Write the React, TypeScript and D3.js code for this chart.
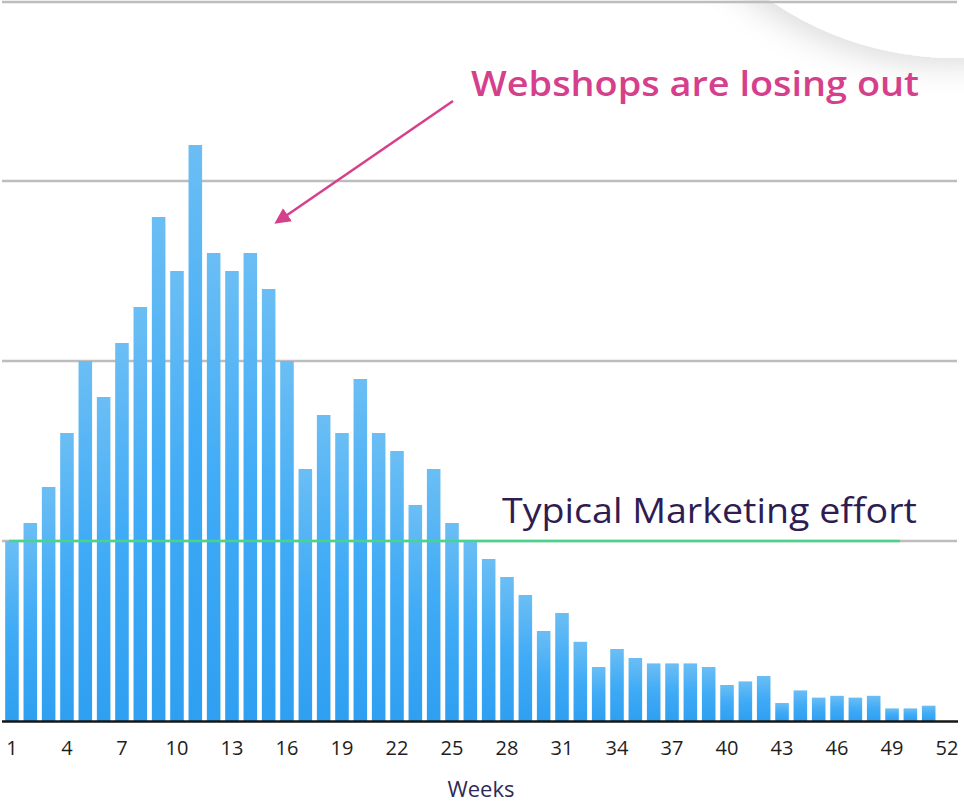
import React, { useEffect, useRef } from "react";
import * as d3 from "d3";

// weeks on the x axis (week 52 has no bar)
const weeks = d3.range(1, 53);

// bar heights, one per week (gridline step = 10)
const values = [
  10, 11, 13, 16, 20, 18, 21, 23, 28, 25, 32, 26, 25, 26, 24, 20, 14, 17, 16,
  19, 16, 15, 12, 14, 11, 10, 9, 8, 7, 5, 6, 4.4, 3, 4, 3.5, 3.2, 3.2, 3.2, 3,
  2, 2.2, 2.5, 1, 1.7, 1.3, 1.4, 1.3, 1.4, 0.7, 0.7, 0.85, 0,
];

const tickWeeks = [1, 4, 7, 10, 13, 16, 19, 22, 25, 28, 31, 34, 37, 40, 43, 46, 49, 52];
const gridValues = [10, 20, 30, 40];
const typicalEffort = 10;

const App = () => {
  const svgRef = useRef<SVGSVGElement>(null);

  useEffect(() => {
    const svg = d3.select(svgRef.current);
    svg.selectAll("*").remove();

    const width = 964;
    const height = 804;
    const base = 721;

    const x = d3
      .scaleBand<number>()
      .domain(weeks)
      .range([2.8, 956.2])
      .paddingInner(0.26)
      .paddingOuter(0.13);

    const y = d3.scaleLinear().domain([0, 40]).range([base, 1]);

    const defs = svg.append("defs");

    const grad = defs
      .append("linearGradient")
      .attr("id", "barGrad")
      .attr("x1", 0)
      .attr("y1", 0)
      .attr("x2", 0)
      .attr("y2", 1);
    grad.append("stop").attr("offset", "0%").attr("stop-color", "#6bbef4");
    grad.append("stop").attr("offset", "50%").attr("stop-color", "#40abf6");
    grad.append("stop").attr("offset", "100%").attr("stop-color", "#2f9ff1");

    const shadow = defs
      .append("filter")
      .attr("id", "softShadow")
      .attr("x", "-50%")
      .attr("y", "-50%")
      .attr("width", "200%")
      .attr("height", "200%");
    shadow
      .append("feDropShadow")
      .attr("dx", -8)
      .attr("dy", 6)
      .attr("stdDeviation", 16)
      .attr("flood-color", "#000")
      .attr("flood-opacity", 0.14);

    const arrowHead = defs
      .append("marker")
      .attr("id", "arrowHead")
      .attr("viewBox", "0 0 10 10")
      .attr("refX", 8)
      .attr("refY", 5)
      .attr("markerWidth", 16)
      .attr("markerHeight", 16)
      .attr("markerUnits", "userSpaceOnUse")
      .attr("orient", "auto");
    arrowHead.append("path").attr("d", "M0,0 L10,5 L0,10 Z").attr("fill", "#d63f8c");

    // background decoration, top right
    svg
      .append("rect")
      .attr("width", width)
      .attr("height", height)
      .attr("fill", "#fff");
    svg
      .append("circle")
      .attr("cx", 955)
      .attr("cy", -268)
      .attr("r", 326)
      .attr("fill", "#fff")
      .attr("filter", "url(#softShadow)");

    // gridlines
    svg
      .selectAll(".grid")
      .data(gridValues)
      .join("line")
      .attr("class", "grid")
      .attr("x1", 2)
      .attr("x2", 957)
      .attr("y1", (d) => y(d) + (d === 40 ? 1 : 0))
      .attr("y2", (d) => y(d) + (d === 40 ? 1 : 0))
      .attr("stroke", "#bdbdbd")
      .attr("stroke-width", 2.5);

    // bars
    svg
      .selectAll(".bar")
      .data(weeks.filter((w, i) => values[i] > 0))
      .join("rect")
      .attr("class", "bar")
      .attr("x", (d) => x(d)!)
      .attr("y", (d) => y(values[d - 1]))
      .attr("width", x.bandwidth())
      .attr("height", (d) => base - y(values[d - 1]))
      .attr("fill", "url(#barGrad)");

    // baseline
    svg
      .append("line")
      .attr("x1", 2)
      .attr("x2", 958)
      .attr("y1", base + 0.5)
      .attr("y2", base + 0.5)
      .attr("stroke", "#161616")
      .attr("stroke-width", 2.5);

    // typical marketing effort line
    svg
      .append("line")
      .attr("x1", 9)
      .attr("x2", 900)
      .attr("y1", y(typicalEffort))
      .attr("y2", y(typicalEffort))
      .attr("stroke", "#48d58b")
      .attr("stroke-width", 2.5);

    svg
      .append("text")
      .attr("x", 502)
      .attr("y", 523)
      .attr("font-family", "'Open Sans', sans-serif")
      .attr("font-size", 35)
      .attr("fill", "#2f1c52")
      .attr("textLength", 415)
      .attr("lengthAdjust", "spacingAndGlyphs")
      .text("Typical Marketing effort");

    // annotation
    svg
      .append("line")
      .attr("x1", 453)
      .attr("y1", 101)
      .attr("x2", 277)
      .attr("y2", 222)
      .attr("stroke", "#d63f8c")
      .attr("stroke-width", 2.5)
      .attr("marker-end", "url(#arrowHead)");

    svg
      .append("text")
      .attr("x", 471)
      .attr("y", 96)
      .attr("font-family", "'Open Sans', sans-serif")
      .attr("font-weight", 600)
      .attr("font-size", 34)
      .attr("fill", "#d63f8c")
      .attr("textLength", 448)
      .attr("lengthAdjust", "spacingAndGlyphs")
      .text("Webshops are losing out");

    // x axis labels
    svg
      .selectAll(".tick")
      .data(tickWeeks)
      .join("text")
      .attr("class", "tick")
      .attr("x", (d) => x(d)! + x.bandwidth() / 2)
      .attr("y", 755)
      .attr("text-anchor", "middle")
      .attr("font-family", "'Open Sans', sans-serif")
      .attr("font-size", 20)
      .attr("fill", "#1e1e1e")
      .text((d) => d);

    svg
      .append("text")
      .attr("x", 481)
      .attr("y", 797)
      .attr("text-anchor", "middle")
      .attr("font-family", "'Open Sans', sans-serif")
      .attr("font-size", 22)
      .attr("fill", "#2e2a5a")
      .text("Weeks");
  }, []);

  return (
    <svg
      ref={svgRef}
      width={964}
      height={804}
      style={{ position: "absolute", left: 0, top: 0, display: "block" }}
    ></svg>
  );
};

export default App;
